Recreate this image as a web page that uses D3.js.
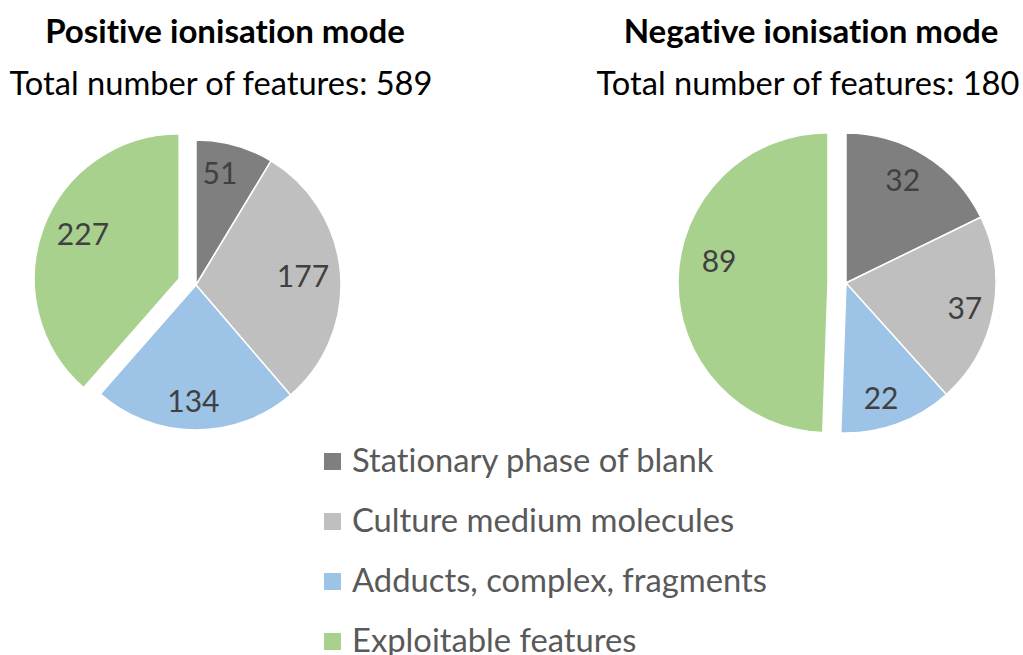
<!DOCTYPE html>
<html>
<head>
<meta charset="utf-8">
<script src="https://cdn.jsdelivr.net/npm/d3@7"></script>
<style>
  html, body { margin: 0; padding: 0; background: #fff; }
  svg { display: block; font-family: Lato, "Open Sans", sans-serif; font-variant-ligatures: none; }
</style>
</head>
<body>
<svg id="chart" width="1023" height="655"></svg>
<script>
// Feature categories and counts per ionisation mode
const categories = [
  "Stationary phase of blank",
  "Culture medium molecules",
  "Adducts, complex, fragments",
  "Exploitable features"
];
const positiveCounts = [51, 177, 134, 227];
const negativeCounts = [32, 37, 22, 89];
const positiveTotal = 589;
const negativeTotal = 180;
const sliceColors = ["#7f7f7f", "#bfbfbf", "#9dc3e6", "#a9d18e"];

const svg = d3.select("#chart");

// Shrink/grow a text node's font size so it spans the given width
function fitWidth(sel, width, base) {
  sel.attr("font-size", base);
  const w = sel.node().getComputedTextLength();
  sel.attr("font-size", base * width / w);
  return base * width / w;
}

const panels = [
  {
    title: "Positive ionisation mode",
    counts: positiveCounts,
    total: positiveTotal,
    cx: 196, cy: 285, r: 145,
    titleX: 225, subX: 221,
    labelFrac: [0.79, 0.74, 0.80, 0.73],
    labelTurn: [-3.5, 0, 1, 4]
  },
  {
    title: "Negative ionisation mode",
    counts: negativeCounts,
    total: negativeTotal,
    cx: 846, cy: 283, r: 150,
    titleX: 811, subX: 808,
    labelFrac: [0.78, 0.81, 0.80, 0.74],
    labelTurn: [-3, 1, 3, 10]
  }
];

const explodeIndex = 3;   // exploitable features slice is pulled out
const explodeDist = 18;

// Shared font sizes for headings
const probeTitle = svg.append("text").attr("font-weight", 700).text(panels[0].title);
const titleSize = fitWidth(probeTitle, 360, 28);
probeTitle.remove();
const probeSub = svg.append("text").text("Total number of features: " + positiveTotal);
const subSize = fitWidth(probeSub, 423, 32);
probeSub.remove();

const pie = d3.pie().sort(null).value(d => d);
const toRad = Math.PI / 180;

panels.forEach(p => {
  svg.append("text")
    .attr("x", p.titleX).attr("y", 43)
    .attr("text-anchor", "middle")
    .attr("font-weight", 700)
    .attr("font-size", titleSize)
    .attr("fill", "#000")
    .text(p.title);

  svg.append("text")
    .attr("x", p.subX).attr("y", 95)
    .attr("text-anchor", "middle")
    .attr("font-size", subSize)
    .attr("fill", "#000")
    .text("Total number of features: " + p.total);

  const arc = d3.arc().innerRadius(0).outerRadius(p.r);
  const arcs = pie(p.counts);
  const g = svg.append("g").attr("transform", `translate(${p.cx},${p.cy})`);

  const slice = g.selectAll("g.slice")
    .data(arcs)
    .join("g")
    .attr("class", "slice")
    .attr("transform", (d, i) => {
      if (i !== explodeIndex) return null;
      const mid = (d.startAngle + d.endAngle) / 2;
      const [dx, dy] = d3.pointRadial(mid, explodeDist);
      return `translate(${dx},${dy})`;
    });

  slice.append("path")
    .attr("d", arc)
    .attr("fill", (d, i) => sliceColors[i])
    .attr("stroke", "#fff")
    .attr("stroke-width", 1.5)
    .attr("stroke-linejoin", "round");

  slice.append("text")
    .attr("transform", (d, i) => {
      const mid = (d.startAngle + d.endAngle) / 2 + p.labelTurn[i] * toRad;
      const [x, y] = d3.pointRadial(mid, p.r * p.labelFrac[i]);
      return `translate(${x},${y})`;
    })
    .attr("text-anchor", "middle")
    .attr("dy", "0.36em")
    .attr("font-size", 30)
    .attr("fill", "#404040")
    .text(d => d.data);
});

// Legend
const legendX = 324, legendTop = 453, legendStep = 60, swatch = 17;
const legend = svg.append("g");
const rows = legend.selectAll("g")
  .data(categories)
  .join("g")
  .attr("transform", (d, i) => `translate(${legendX},${legendTop + i * legendStep})`);

rows.append("rect")
  .attr("width", swatch).attr("height", swatch)
  .attr("fill", (d, i) => sliceColors[i]);

const legendText = rows.append("text")
  .attr("x", 28).attr("y", 18.5)
  .attr("fill", "#595959")
  .text(d => d);

const probeLegend = svg.append("text").text(categories[2]);
const legendSize = fitWidth(probeLegend, 415, 32);
probeLegend.remove();
legendText.attr("font-size", legendSize);
</script>
</body>
</html>
